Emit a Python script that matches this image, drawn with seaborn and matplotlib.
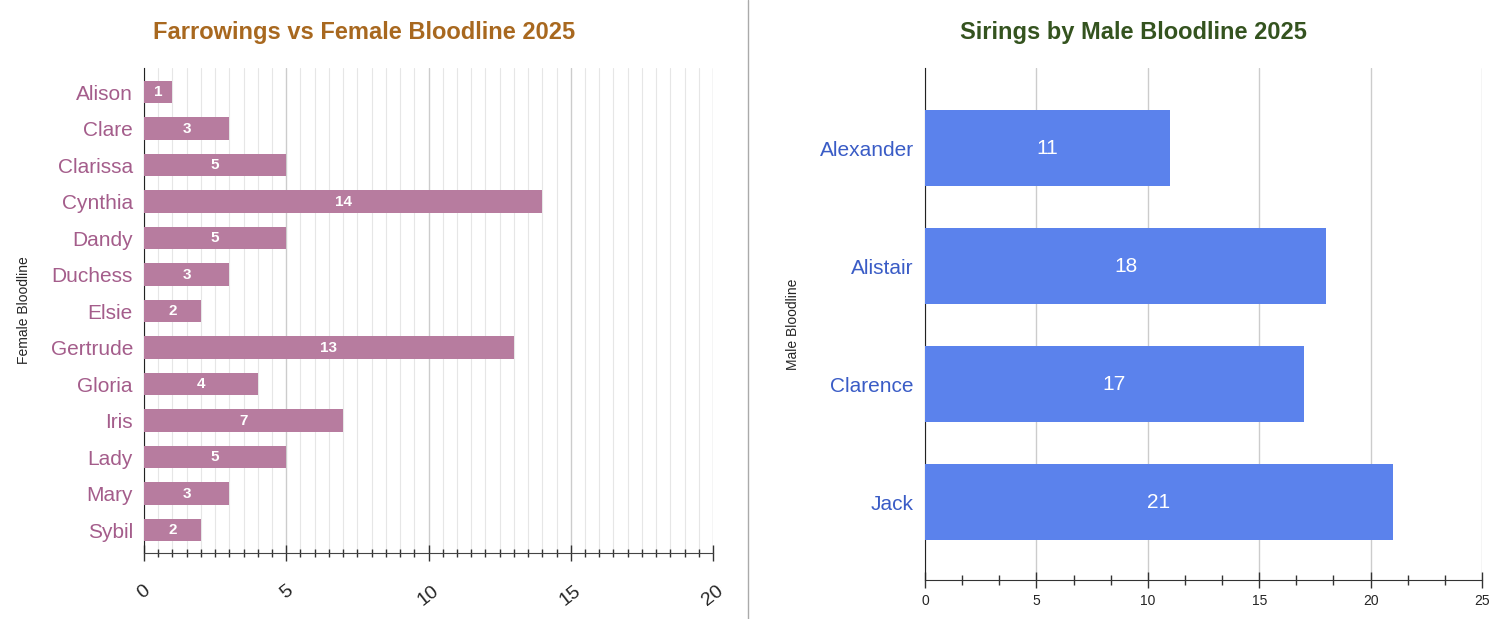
import numpy as np
import pandas as pd
import matplotlib
matplotlib.use("Agg")
import matplotlib.pyplot as plt
import seaborn as sns
from matplotlib.ticker import MultipleLocator

# -------------------- DATA ---------------------------------
female_names = ["Alison", "Clare", "Clarissa", "Cynthia", "Dandy", "Duchess", "Elsie",
                "Gertrude", "Gloria", "Iris", "Lady", "Mary", "Sybil"]
farrowings = [1, 3, 5, 14, 5, 3, 2, 13, 4, 7, 5, 3, 2]

male_names = ["Alexander", "Alistair", "Clarence", "Jack"]
sirings = [11, 18, 17, 21]

sns.set_style("white")
plt.rcParams['font.family'] = ['Liberation Sans', 'DejaVu Sans']

df_f = pd.DataFrame({"name": female_names, "count": farrowings})
df_m = pd.DataFrame({"name": male_names, "count": sirings})

fig = plt.figure(figsize=(15.08, 6.19), dpi=100)
ax1 = fig.add_axes([144 / 1508, 1 - 553 / 619, (713 - 144) / 1508, (553 - 68) / 619])
ax2 = fig.add_axes([925 / 1508, 1 - 580 / 619, (1482 - 925) / 1508, (580 - 68) / 619])

# -------------------- LEFT: FARROWINGS ---------------------
sns.barplot(data=df_f, y="name", x="count", color="#b77c9f", saturation=1,
            width=0.62, ax=ax1, zorder=3, linewidth=0)
ax1.set_xlim(0, 20)
ax1.set_ylim(12.63, -0.66)
ax1.xaxis.set_major_locator(MultipleLocator(5))
ax1.xaxis.set_minor_locator(MultipleLocator(0.5))
ax1.grid(True, which="major", axis="x", color="#cccccc", lw=1, zorder=0)
ax1.grid(True, which="minor", axis="x", color="#e6e6e6", lw=0.8, zorder=0)
for s in ["top", "right"]:
    ax1.spines[s].set_visible(False)
ax1.spines["left"].set_color("#222222")
ax1.spines["bottom"].set_color("#444444")
ax1.tick_params(axis="x", which="both", bottom=True)
ax1.tick_params(axis="x", which="major", direction="inout", length=12, width=1,
                color="#333333", labelsize=14, pad=15, labelrotation=38)
ax1.tick_params(axis="x", which="minor", direction="inout", length=6, width=1, color="#333333")
ax1.tick_params(axis="y", length=0, labelsize=15, labelcolor="#a45d8b", pad=8)
for lbl in ax1.get_xticklabels():
    lbl.set_ha("center")
ax1.set_xlabel("")
ax1.set_ylabel("Female Bloodline", fontsize=10)
ax1.yaxis.set_label_coords((31 - 144) / (713 - 144), 0.5)
for c in ax1.containers:
    ax1.bar_label(c, label_type="center", color="white", fontsize=11, fontweight="bold")
fig.text(364 / 1508, 1 - 33 / 619, "Farrowings vs Female Bloodline 2025", ha="center", va="center",
         fontsize=17, fontweight="bold", color="#a8681f")

# -------------------- RIGHT: SIRINGS -----------------------
sns.barplot(data=df_m, y="name", x="count", color="#5b82ec", saturation=1,
            width=0.645, ax=ax2, zorder=3, linewidth=0)
ax2.set_xlim(0, 25)
ax2.set_ylim(3.66, -0.68)
ax2.xaxis.set_major_locator(MultipleLocator(5))
ax2.xaxis.set_minor_locator(MultipleLocator(5 / 3))
ax2.grid(True, which="major", axis="x", color="#cccccc", lw=1, zorder=0)
for s in ["top", "right"]:
    ax2.spines[s].set_visible(False)
ax2.spines["left"].set_color("#222222")
ax2.spines["bottom"].set_color("#333333")
ax2.tick_params(axis="x", which="both", bottom=True)
ax2.tick_params(axis="x", which="major", direction="inout", length=12, width=1,
                color="#333333", labelsize=10, pad=4)
ax2.tick_params(axis="x", which="minor", direction="inout", length=7, width=1, color="#333333")
ax2.tick_params(axis="y", length=0, labelsize=15, labelcolor="#3a5cc6", pad=8)
ax2.set_xlabel("")
ax2.set_ylabel("Male Bloodline", fontsize=10)
ax2.yaxis.set_label_coords((800 - 925) / (1482 - 925), 0.5)
for c in ax2.containers:
    ax2.bar_label(c, label_type="center", color="white", fontsize=15)
fig.text(1133 / 1508, 1 - 33 / 619, "Sirings by Male Bloodline 2025", ha="center", va="center",
         fontsize=17, fontweight="bold", color="#34531f")

# divider between the two charts
fig.add_artist(plt.Line2D([748 / 1508, 748 / 1508], [0, 1], color="#aaaaaa", lw=1))

plt.savefig("out.png", dpi=100)
